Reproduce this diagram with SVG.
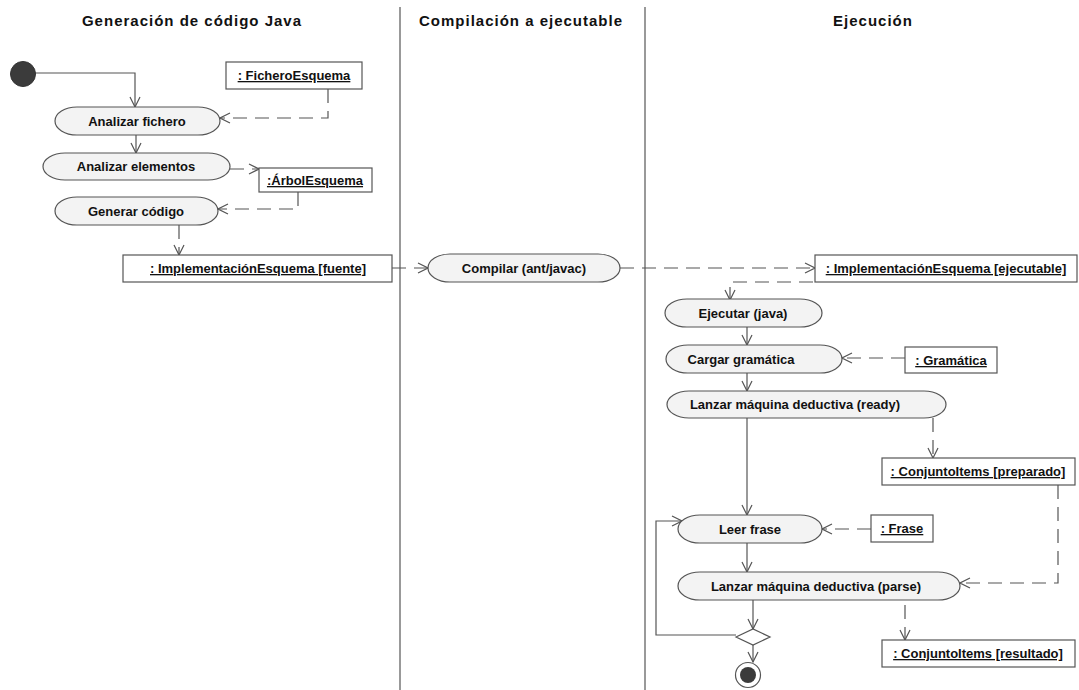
<svg xmlns="http://www.w3.org/2000/svg" width="1079" height="690" viewBox="0 0 1079 690">
<defs>
<marker id="open" viewBox="0 0 12 12" refX="11" refY="6" markerWidth="12" markerHeight="12" markerUnits="userSpaceOnUse" orient="auto">
<path d="M1,1 L11,6 L1,11" fill="none" stroke="#555" stroke-width="1.2"/>
</marker>
</defs>
<style>
.hdr{font-family:"Liberation Sans",Arial,sans-serif;font-size:15px;font-weight:bold;fill:#111;letter-spacing:1px;text-anchor:middle}
.act{fill:#f3f3f3;stroke:#555;stroke-width:1.2}
.obj{fill:#fff;stroke:#555;stroke-width:1.2}
.t{font-family:"Liberation Sans",Arial,sans-serif;font-size:13px;font-weight:bold;fill:#111;text-anchor:middle}
.u{text-decoration:underline}
.lane{stroke:#777;stroke-width:1.5;fill:none}
.flow{stroke:#555;stroke-width:1.2;fill:none;marker-end:url(#open)}
.dash{stroke:#555;stroke-width:1.2;fill:none;stroke-dasharray:14 8;marker-end:url(#open)}
</style>
<rect width="1079" height="690" fill="#fff"/>
<g id="lanes">
<line class="lane" x1="400" y1="7" x2="400" y2="690"/>
<line class="lane" x1="645" y1="7" x2="645" y2="690"/>
<text class="hdr" x="192" y="26">Generación de código Java</text>
<text class="hdr" x="521" y="26">Compilación a ejecutable</text>
<text class="hdr" x="873" y="26">Ejecución</text>
</g>
<g id="connectors">
<path class="flow" d="M34,73 H135 V107"/>
<path class="flow" d="M136,135 V153"/>
<path class="dash" d="M328,89 V118 H220" stroke-dasharray="20 10"/>
<path class="dash" d="M230,169 H259"/>
<path class="dash" d="M298,192 V209 H218"/>
<path class="dash" d="M179,225 V255"/>
<path class="dash" d="M392,268 H428"/>
<path class="dash" d="M620,268 H815"/>
<path class="dash" d="M813,282 H730 V300"/>
<path class="flow" d="M747,327 V345"/>
<path class="dash" d="M905,358 H842"/>
<path class="flow" d="M747,373 V391"/>
<path class="flow" d="M747,418 V515"/>
<path class="dash" d="M933,418 V458"/>
<path class="dash" d="M871,529 H822"/>
<path class="flow" d="M747,543 V572"/>
<path class="dash" d="M1058,485 V583 H960"/>
<path class="flow" d="M753,600 V629"/>
<path class="dash" d="M905,605 V640"/>
<path class="flow" d="M736,635 H656 V521 H682"/>
<path class="flow" d="M753,645 V662"/>
</g>
<g id="start"><circle cx="23" cy="74" r="12.5" fill="#3b3b3b" stroke="#333"/></g>
<g id="analizar-fichero"><rect class="act" x="55" y="107" width="165" height="28" rx="22" ry="14"/><text class="t" x="137" y="126">Analizar fichero</text></g>
<g id="analizar-elementos"><rect class="act" x="43" y="153" width="187" height="27" rx="22" ry="13.5"/><text class="t" x="136" y="171">Analizar elementos</text></g>
<g id="generar-codigo"><rect class="act" x="55" y="197" width="163" height="28" rx="22" ry="14"/><text class="t" x="136" y="216">Generar código</text></g>
<g id="fichero-esquema"><rect class="obj" x="226" y="62" width="136" height="27"/><text class="t u" x="294" y="80">: FicheroEsquema</text></g>
<g id="arbol-esquema"><rect class="obj" x="259" y="168" width="113" height="24"/><text class="t u" x="315" y="185">:ÁrbolEsquema</text></g>
<g id="impl-fuente"><rect class="obj" x="123" y="255" width="269" height="27"/><text class="t u" x="258" y="273">: ImplementaciónEsquema [fuente]</text></g>
<g id="compilar"><rect class="act" x="428" y="254" width="192" height="28" rx="22" ry="14"/><text class="t" x="524" y="273">Compilar (ant/javac)</text></g>
<g id="impl-ejecutable"><rect class="obj" x="815" y="255" width="262" height="27"/><text class="t u" x="946" y="273">: ImplementaciónEsquema [ejecutable]</text></g>
<g id="ejecutar"><rect class="act" x="665" y="299" width="157" height="28" rx="22" ry="14"/><text class="t" x="743" y="318">Ejecutar (java)</text></g>
<g id="cargar"><rect class="act" x="666" y="345" width="176" height="28" rx="22" ry="14"/><text class="t" x="741" y="364">Cargar gramática</text></g>
<g id="gramatica"><rect class="obj" x="905" y="347" width="92" height="26"/><text class="t u" x="951" y="365">: Gramática</text></g>
<g id="lanzar-ready"><rect class="act" x="667" y="391" width="279" height="27" rx="22" ry="13.5"/><text class="t" x="795" y="409">Lanzar máquina deductiva (ready)</text></g>
<g id="items-preparado"><rect class="obj" x="882" y="458" width="193" height="27"/><text class="t u" x="978" y="476">: ConjuntoItems [preparado]</text></g>
<g id="leer-frase"><rect class="act" x="678" y="515" width="144" height="28" rx="22" ry="14"/><text class="t" x="750" y="534">Leer frase</text></g>
<g id="frase"><rect class="obj" x="871" y="515" width="62" height="27"/><text class="t u" x="902" y="533">: Frase</text></g>
<g id="lanzar-parse"><rect class="act" x="678" y="572" width="282" height="28" rx="22" ry="14"/><text class="t" x="816" y="591">Lanzar máquina deductiva (parse)</text></g>
<g id="items-resultado"><rect class="obj" x="882" y="640" width="193" height="27"/><text class="t u" x="978" y="658">: ConjuntoItems [resultado]</text></g>
<g id="decision"><path d="M736,637 L753,629 L770,637 L753,645 Z" fill="#fff" stroke="#555" stroke-width="1.2"/></g>
<g id="end"><circle cx="748" cy="675" r="12.5" fill="#fff" stroke="#555" stroke-width="1.2"/><circle cx="748" cy="675" r="8" fill="#3b3b3b"/></g>
</svg>
